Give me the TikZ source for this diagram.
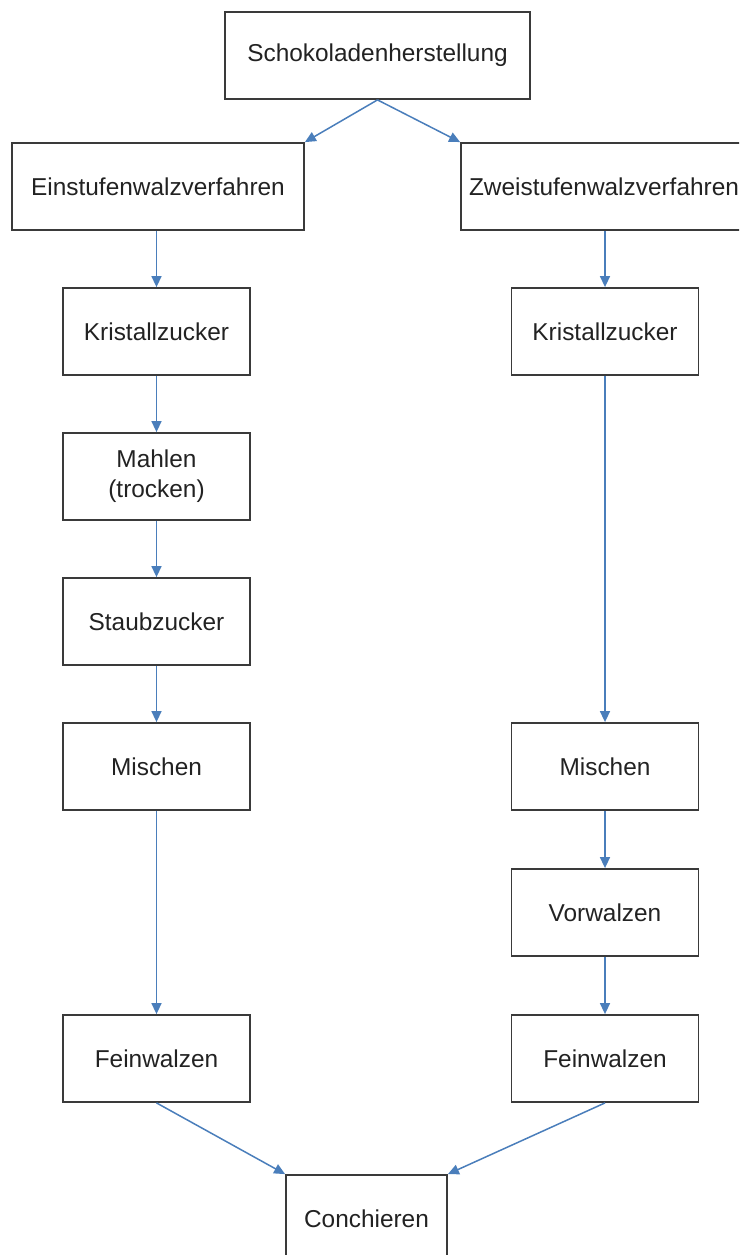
\documentclass[tikz,border=0pt]{standalone}
\usepackage{fontspec}
\setmainfont{Liberation Sans}
\usetikzlibrary{arrows.meta}
\definecolor{boxline}{HTML}{3A3A3A}
\definecolor{flow}{HTML}{4A7EBB}
\definecolor{txt}{HTML}{222222}
\begin{document}
\begin{tikzpicture}[x=1pt,y=-1pt,
  stepbox/.style={draw=boxline, line width=1.8pt, rectangle, inner sep=0pt,
    minimum width=187pt, minimum height=87pt, text=txt, align=center,
    font=\fontsize{24.4}{30}\selectfont},
  flowarrow/.style={draw=flow, line width=1.5pt,
    -{Triangle[length=11pt,width=10pt]}}]
\useasboundingbox (0,0) rectangle (739,1255);
\clip (0,0) rectangle (739,1255);

% top
\node[stepbox, minimum width=305pt] (top) at (377.5,55.5) {Schokoladenherstellung};

% two processes
\node[stepbox, minimum width=292pt] (ein)  at (158,186.5) {Einstufenwalzverfahren};
\node[stepbox, minimum width=286pt] (zwei) at (604,186.5) {Zweistufenwalzverfahren};

% single-stage branch
\node[stepbox] (k1) at (156.5,331.5)  {Kristallzucker};
\node[stepbox] (ma) at (156.5,476.5)  {Mahlen\\(trocken)};
\node[stepbox] (st) at (156.5,621.5)  {Staubzucker};
\node[stepbox] (m1) at (156.5,766.5)  {Mischen};
\node[stepbox] (f1) at (156.5,1058.5) {Feinwalzen};

% two-stage branch
\node[stepbox] (k2) at (605,331.5)  {Kristallzucker};
\node[stepbox] (m2) at (605,766.5)  {Mischen};
\node[stepbox] (vw) at (605,912.5)  {Vorwalzen};
\node[stepbox] (f2) at (605,1058.5) {Feinwalzen};

% final step
\node[stepbox, minimum width=161pt] (con) at (366.5,1218.5) {Conchieren};

% connectors
\draw[flowarrow] (top.south) -- (ein.north east);
\draw[flowarrow] (top.south) -- (zwei.north west);

\draw[flowarrow] (ein.south -| k1.north) -- (k1.north);
\draw[flowarrow] (k1) -- (ma);
\draw[flowarrow] (ma) -- (st);
\draw[flowarrow] (st) -- (m1);
\draw[flowarrow] (m1) -- (f1);

\draw[flowarrow] (zwei.south -| k2.north) -- (k2.north);
\draw[flowarrow] (k2) -- (m2);
\draw[flowarrow] (m2) -- (vw);
\draw[flowarrow] (vw) -- (f2);

\draw[flowarrow] (f1.south) -- (con.north west);
\draw[flowarrow] (f2.south) -- (con.north east);
\end{tikzpicture}
\end{document}
